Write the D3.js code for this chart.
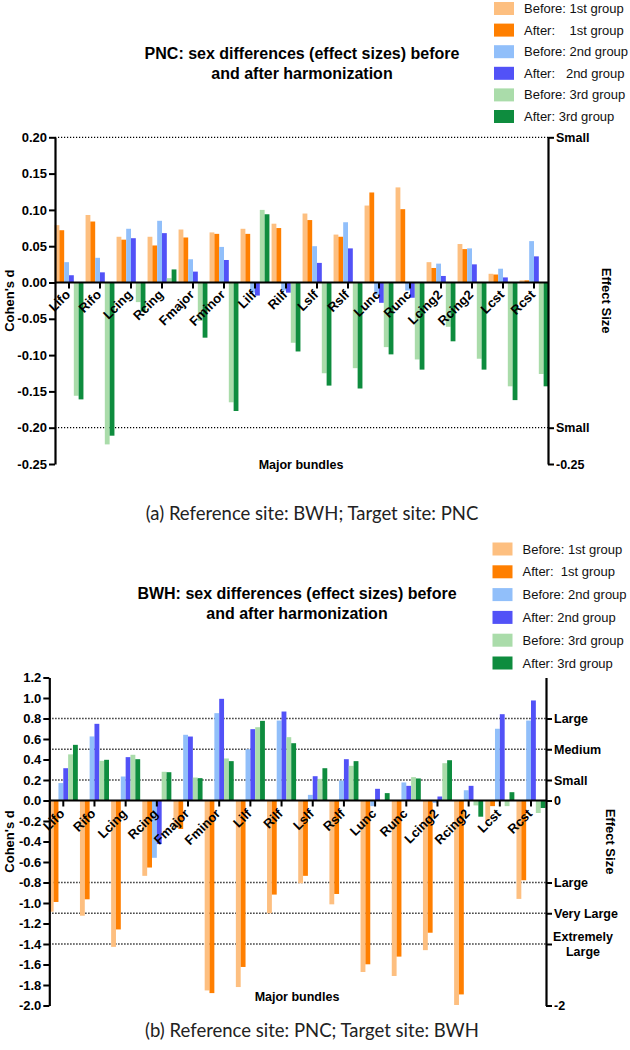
<!DOCTYPE html>
<html><head><meta charset="utf-8">
<script src="https://cdn.jsdelivr.net/npm/d3@7"></script>
<style>
body{margin:0;background:#fff}
svg{display:block}
text{font-family:"Liberation Sans",Arial,Helvetica,sans-serif}
</style></head><body>
<svg id="chart" width="630" height="1050"></svg>
<script>
// ---------- data ----------
const categories = ["Lifo","Rifo","Lcing","Rcing","Fmajor","Fminor","Lilf","Rilf","Lslf","Rslf","Lunc","Runc","Lcing2","Rcing2","Lcst","Rcst"];
const seriesColors = ["#FDBF80","#FF7F00","#91BFFA","#5252F7","#AADCAA","#0E8C3E"];

// (a) PNC panel
const pncBefore1 = [0.079,0.093,0.063,0.063,0.073,0.069,0.074,0.081,0.095,0.066,0.106,0.131,0.028,0.053,0.012,0.003];
const pncAfter1  = [0.072,0.084,0.059,0.051,0.062,0.067,0.067,0.075,0.086,0.063,0.124,0.101,0.020,0.046,0.011,0.003];
const pncBefore2 = [0.028,0.034,0.074,0.085,0.032,0.049,-0.014,-0.011,0.050,0.083,-0.017,-0.011,0.026,0.047,0.019,0.057];
const pncAfter2  = [0.010,0.014,0.061,0.068,0.015,0.031,-0.018,-0.014,0.027,0.047,-0.028,-0.021,0.009,0.025,0.007,0.036];
const pncBefore3 = [-0.156,-0.223,-0.027,0.006,-0.053,-0.165,0.100,-0.083,-0.125,-0.118,-0.089,-0.106,-0.061,-0.105,-0.143,-0.126];
const pncAfter3  = [-0.161,-0.211,-0.040,0.018,-0.076,-0.177,0.094,-0.095,-0.142,-0.146,-0.099,-0.120,-0.081,-0.120,-0.162,-0.143];
const pncLeftTicks = [0.20,0.15,0.10,0.05,0.00,-0.05,-0.10,-0.15,-0.20,-0.25];
const pncRightTicks = [0.20,-0.20,-0.25];
const pncRightLabels = ["Small","Small","-0.25"];
const pncRefLines = [0.20,-0.20];
const pncLegend = ["Before: 1st group","After:    1st group","Before: 2nd group","After:   2nd group","Before: 3rd group","After: 3rd group"];
const pncTitle = ["PNC: sex differences (effect sizes) before","and after harmonization"];
const pncCaption = "(a) Reference site: BWH; Target site: PNC";

// (b) BWH panel
const bwhBefore1 = [-1.085,-1.124,-1.428,-0.735,-0.268,-1.853,-1.82,-1.10,-0.807,-1.013,-1.673,-1.712,-1.46,-1.995,-0.19,-0.96];
const bwhAfter1  = [-0.99,-0.964,-1.258,-0.654,-0.278,-1.879,-1.624,-0.918,-0.735,-0.912,-1.598,-1.523,-1.29,-1.892,-0.055,-0.778];
const bwhBefore2 = [0.17,0.625,0.234,-0.559,0.641,0.852,0.50,0.78,0.055,0.195,-0.055,0.176,-0.023,0.10,0.70,0.78];
const bwhAfter2  = [0.315,0.748,0.423,-0.425,0.624,0.992,0.696,0.868,0.237,0.403,0.114,0.143,0.039,0.143,0.842,0.976];
const bwhBefore3 = [0.45,0.387,0.446,0.28,0.224,0.41,0.715,0.618,0.211,0.338,0.005,0.228,0.364,-0.048,-0.055,-0.122];
const bwhAfter3  = [0.543,0.397,0.403,0.276,0.218,0.384,0.777,0.559,0.315,0.384,0.072,0.215,0.393,-0.158,0.081,-0.073];
const bwhLeftTicks = [1.2,1.0,0.8,0.6,0.4,0.2,0.0,-0.2,-0.4,-0.6,-0.8,-1.0,-1.2,-1.4,-1.6,-1.8,-2.0];
const bwhRightTicks = [0.8,0.5,0.2,0,-0.8,-1.1,-1.4,-2];
const bwhRightLabels = ["Large","Medium","Small","0","Large","Very Large","Extremely|Large","-2"];
const bwhRefLines = [0.8,0.5,0.2,-0.8,-1.1,-1.4];
const bwhLegend = ["Before: 1st group","After:  1st group","Before: 2nd group","After: 2nd group","Before: 3rd group","After: 3rd group"];
const bwhTitle = ["BWH: sex differences (effect sizes) before","and after harmonization"];
const bwhCaption = "(b) Reference site: PNC; Target site: BWH";

// ---------- drawing ----------
const svg = d3.select("#chart");
svg.append("rect").attr("width",630).attr("height",1050).attr("fill","#fff");

function drawPanel(cfg){
  const g = svg.append("g");
  const series = cfg.series;
  const x = d3.scaleBand().domain(categories).range(cfg.xRange).paddingInner(0).paddingOuter(0);
  const sub = d3.scaleBand().domain(d3.range(series.length)).range([0, x.bandwidth()]).paddingInner(0).paddingOuter(0.22);
  const y = d3.scaleLinear().domain(cfg.yDomain).range(cfg.yRange);
  const [ax0, ax1] = cfg.axisX;

  // reference dotted lines
  g.selectAll("line.ref").data(cfg.refLines).join("line")
    .attr("x1", ax0).attr("x2", ax1)
    .attr("y1", d=>y(d)).attr("y2", d=>y(d))
    .attr("stroke","#000").attr("stroke-width",1.3).attr("stroke-dasharray","1.2,1.8");

  // bars
  series.forEach((vals, s) => {
    g.append("g").selectAll("rect").data(vals).join("rect")
      .attr("x", (d,i)=> x(categories[i]) + sub(s))
      .attr("width", sub.bandwidth())
      .attr("y", d=> y(Math.max(0,d)))
      .attr("height", d=> Math.abs(y(d)-y(0)))
      .attr("fill", seriesColors[s]);
  });

  // x axis at zero
  const xa = g.append("g").attr("transform",`translate(0,${y(0)})`)
    .call(d3.axisBottom(x).tickSize(6).tickSizeOuter(0));
  xa.select(".domain").remove();
  xa.selectAll(".tick line").attr("stroke","#000").attr("stroke-width",2);
  xa.selectAll(".tick text")
    .attr("x",0).attr("y",0).attr("dy",0)
    .attr("transform",`translate(${cfg.xLabelOff[0]},${cfg.xLabelOff[1]}) rotate(-45)`)
    .attr("text-anchor","end")
    .style("font-size","13px").style("font-weight","bold").attr("fill","#000");
  g.append("line").attr("x1",ax0).attr("x2",ax1).attr("y1",y(0)).attr("y2",y(0))
    .attr("stroke","#000").attr("stroke-width",2.2);

  // left axis
  const la = g.append("g").attr("transform",`translate(${ax0},0)`)
    .call(d3.axisLeft(y).tickValues(cfg.leftTicks).tickFormat(d=>d.toFixed(cfg.fmtDigits)).tickSize(6).tickSizeOuter(0).tickPadding(2));
  la.select(".domain").attr("stroke-width",2.2).attr("stroke","#000");
  la.selectAll(".tick line").attr("stroke-width",2).attr("stroke","#000");
  la.selectAll(".tick text").style("font-size","13px").style("font-weight","bold").attr("fill","#000");

  // right axis
  const ra = g.append("g").attr("transform",`translate(${ax1},0)`)
    .call(d3.axisRight(y).tickValues(cfg.rightTicks).tickFormat((d,i)=>cfg.rightLabels[i]).tickSize(6).tickSizeOuter(0).tickPadding(2));
  ra.select(".domain").attr("stroke-width",2.2).attr("stroke","#000");
  ra.selectAll(".tick line").attr("stroke-width",2).attr("stroke","#000");
  ra.selectAll(".tick text").style("font-size","12.5px").style("font-weight","bold").attr("fill","#000")
    .each(function(d,i){
      const lab = cfg.rightLabels[i];
      if(lab.indexOf("|")>=0){
        const t = d3.select(this); t.text(null);
        const parts = lab.split("|");
        t.attr("text-anchor","middle").attr("x",37).attr("dy",null).attr("dominant-baseline","central");
        parts.forEach((p,k)=> t.append("tspan").attr("x",37).attr("y",(k-(parts.length-1)/2)*14.5).text(p));
      }
    });

  // axis titles
  const midY = (cfg.yRange[0]+cfg.yRange[1])/2;
  g.append("text").attr("transform",`translate(${cfg.yTitleX},${midY}) rotate(-90)`)
    .attr("text-anchor","middle").attr("dominant-baseline","central")
    .style("font-size","13px").style("font-weight","bold").text("Cohen's d");
  g.append("text").attr("transform",`translate(${cfg.effTitleX},${midY}) rotate(90)`)
    .attr("text-anchor","middle").attr("dominant-baseline","central")
    .style("font-size","13px").style("font-weight","bold").text("Effect Size");
  g.append("text").attr("x",cfg.xTitle[0]).attr("y",cfg.xTitle[1])
    .attr("text-anchor","middle").attr("dominant-baseline","central")
    .style("font-size","12.5px").style("font-weight","bold").text("Major bundles");

  // title
  cfg.title.forEach((t,k)=>{
    g.append("text").attr("x",cfg.titlePos[0]).attr("y",cfg.titlePos[1]+k*cfg.titleStep)
      .attr("text-anchor","middle").attr("dominant-baseline","central")
      .style("font-size","16px").style("font-weight","bold").text(t);
  });

  // legend
  const lg = g.append("g");
  cfg.legend.forEach((t,k)=>{
    const yy = cfg.legendPos[1] + k*cfg.legendStep;
    lg.append("rect").attr("x",cfg.legendPos[0]).attr("y",yy-6.5).attr("width",20).attr("height",13)
      .attr("fill",seriesColors[k]);
    lg.append("text").attr("x",cfg.legendPos[0]+30).attr("y",yy).attr("dominant-baseline","central")
      .style("font-size","13px").style("white-space","pre").attr("fill","#111").text(t);
  });

  // caption
  svg.append("text").attr("x",312).attr("y",cfg.captionY).attr("text-anchor","middle")
    .attr("dominant-baseline","central")
    .style("font-family","Lato, 'DejaVu Sans', sans-serif").style("font-size","18.5px").attr("fill","#222")
    .text(cfg.caption);
}

drawPanel({
  series:[pncBefore1,pncAfter1,pncBefore2,pncAfter2,pncBefore3,pncAfter3],
  xRange:[53.5,549.5], axisX:[55,548],
  yDomain:[-0.25,0.20], yRange:[464,137.3],
  leftTicks:pncLeftTicks, fmtDigits:2,
  rightTicks:pncRightTicks, rightLabels:pncRightLabels,
  refLines:pncRefLines,
  xLabelOff:[2,13],
  yTitleX:9, effTitleX:606, xTitle:[301,465],
  title:pncTitle, titlePos:[302,53], titleStep:20.5,
  legend:pncLegend, legendPos:[494,8.5], legendStep:21.6,
  caption:pncCaption, captionY:513
});

drawPanel({
  series:[bwhBefore1,bwhAfter1,bwhBefore2,bwhAfter2,bwhBefore3,bwhAfter3],
  xRange:[47.7,546.6], axisX:[49.3,546],
  yDomain:[-2.0,1.2], yRange:[1005.5,677.5],
  leftTicks:bwhLeftTicks, fmtDigits:1,
  rightTicks:bwhRightTicks, rightLabels:bwhRightLabels,
  refLines:bwhRefLines,
  xLabelOff:[2,14],
  yTitleX:9, effTitleX:610, xTitle:[297,997],
  title:bwhTitle, titlePos:[297,593], titleStep:20,
  legend:bwhLegend, legendPos:[492.5,549], legendStep:22.8,
  caption:bwhCaption, captionY:1030
});
</script>
</body></html>
